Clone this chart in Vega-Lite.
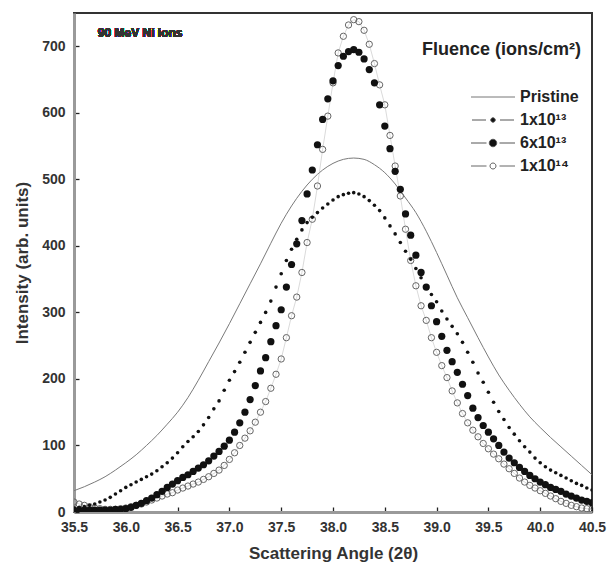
{
"$schema": "https://vega.github.io/schema/vega-lite/v6.json",
"width": 518, "height": 499,
"autosize": {"type": "none"},
"padding": {"left": 74, "top": 13, "right": 19, "bottom": 56},
"background": "white",
"config": {"font": "Liberation Sans", "view": {"stroke": "#333", "strokeWidth": 2}},
"datasets": {"d": [
{"s":"P","a":35.5,"v":32},{"s":"P","a":35.6,"v":38},{"s":"P","a":35.7,"v":45},{"s":"P","a":35.8,"v":53},{"s":"P","a":35.9,"v":63},{"s":"P","a":36.0,"v":74},{"s":"P","a":36.1,"v":86},{"s":"P","a":36.2,"v":100},{"s":"P","a":36.3,"v":115},{"s":"P","a":36.4,"v":132},{"s":"P","a":36.5,"v":150},{"s":"P","a":36.6,"v":172},{"s":"P","a":36.7,"v":198},{"s":"P","a":36.8,"v":226},{"s":"P","a":36.9,"v":254},{"s":"P","a":37.0,"v":283},{"s":"P","a":37.1,"v":313},{"s":"P","a":37.2,"v":343},{"s":"P","a":37.3,"v":373},{"s":"P","a":37.4,"v":404},{"s":"P","a":37.5,"v":434},{"s":"P","a":37.6,"v":460},{"s":"P","a":37.7,"v":482},{"s":"P","a":37.8,"v":500},{"s":"P","a":37.9,"v":514},{"s":"P","a":38.0,"v":524},{"s":"P","a":38.1,"v":530},{"s":"P","a":38.2,"v":532},{"s":"P","a":38.3,"v":530},{"s":"P","a":38.4,"v":522},{"s":"P","a":38.5,"v":510},{"s":"P","a":38.6,"v":493},{"s":"P","a":38.7,"v":472},{"s":"P","a":38.8,"v":450},{"s":"P","a":38.9,"v":422},{"s":"P","a":39.0,"v":390},{"s":"P","a":39.1,"v":356},{"s":"P","a":39.2,"v":322},{"s":"P","a":39.3,"v":292},{"s":"P","a":39.4,"v":262},{"s":"P","a":39.5,"v":233},{"s":"P","a":39.6,"v":206},{"s":"P","a":39.7,"v":183},{"s":"P","a":39.8,"v":162},{"s":"P","a":39.9,"v":143},{"s":"P","a":40.0,"v":127},{"s":"P","a":40.1,"v":112},{"s":"P","a":40.2,"v":98},{"s":"P","a":40.3,"v":84},{"s":"P","a":40.4,"v":70},{"s":"P","a":40.5,"v":56},
{"s":"L","a":35.5,"v":6},{"s":"L","a":35.55,"v":7},{"s":"L","a":35.6,"v":8},{"s":"L","a":35.65,"v":10},{"s":"L","a":35.7,"v":12},{"s":"L","a":35.75,"v":15},{"s":"L","a":35.8,"v":18},{"s":"L","a":35.85,"v":22},{"s":"L","a":35.9,"v":27},{"s":"L","a":35.95,"v":32},{"s":"L","a":36.0,"v":37},{"s":"L","a":36.05,"v":41},{"s":"L","a":36.1,"v":45},{"s":"L","a":36.15,"v":49},{"s":"L","a":36.2,"v":53},{"s":"L","a":36.25,"v":57},{"s":"L","a":36.3,"v":62},{"s":"L","a":36.35,"v":68},{"s":"L","a":36.4,"v":74},{"s":"L","a":36.45,"v":81},{"s":"L","a":36.5,"v":89},{"s":"L","a":36.55,"v":98},{"s":"L","a":36.6,"v":106},{"s":"L","a":36.65,"v":113},{"s":"L","a":36.7,"v":121},{"s":"L","a":36.75,"v":131},{"s":"L","a":36.8,"v":142},{"s":"L","a":36.85,"v":155},{"s":"L","a":36.9,"v":167},{"s":"L","a":36.95,"v":183},{"s":"L","a":37.0,"v":198},{"s":"L","a":37.05,"v":211},{"s":"L","a":37.1,"v":225},{"s":"L","a":37.15,"v":240},{"s":"L","a":37.2,"v":255},{"s":"L","a":37.25,"v":270},{"s":"L","a":37.3,"v":285},{"s":"L","a":37.35,"v":300},{"s":"L","a":37.4,"v":317},{"s":"L","a":37.45,"v":338},{"s":"L","a":37.5,"v":358},{"s":"L","a":37.55,"v":378},{"s":"L","a":37.6,"v":395},{"s":"L","a":37.65,"v":410},{"s":"L","a":37.7,"v":424},{"s":"L","a":37.75,"v":435},{"s":"L","a":37.8,"v":443},{"s":"L","a":37.85,"v":450},{"s":"L","a":37.9,"v":457},{"s":"L","a":37.95,"v":463},{"s":"L","a":38.0,"v":469},{"s":"L","a":38.05,"v":474},{"s":"L","a":38.1,"v":477},{"s":"L","a":38.15,"v":479},{"s":"L","a":38.2,"v":480},{"s":"L","a":38.25,"v":478},{"s":"L","a":38.3,"v":474},{"s":"L","a":38.35,"v":468},{"s":"L","a":38.4,"v":461},{"s":"L","a":38.45,"v":453},{"s":"L","a":38.5,"v":442},{"s":"L","a":38.55,"v":430},{"s":"L","a":38.6,"v":418},{"s":"L","a":38.65,"v":405},{"s":"L","a":38.7,"v":392},{"s":"L","a":38.75,"v":380},{"s":"L","a":38.8,"v":366},{"s":"L","a":38.85,"v":352},{"s":"L","a":38.9,"v":339},{"s":"L","a":38.95,"v":327},{"s":"L","a":39.0,"v":316},{"s":"L","a":39.05,"v":302},{"s":"L","a":39.1,"v":290},{"s":"L","a":39.15,"v":279},{"s":"L","a":39.2,"v":268},{"s":"L","a":39.25,"v":255},{"s":"L","a":39.3,"v":240},{"s":"L","a":39.35,"v":225},{"s":"L","a":39.4,"v":209},{"s":"L","a":39.45,"v":195},{"s":"L","a":39.5,"v":180},{"s":"L","a":39.55,"v":165},{"s":"L","a":39.6,"v":151},{"s":"L","a":39.65,"v":139},{"s":"L","a":39.7,"v":127},{"s":"L","a":39.75,"v":117},{"s":"L","a":39.8,"v":107},{"s":"L","a":39.85,"v":98},{"s":"L","a":39.9,"v":90},{"s":"L","a":39.95,"v":81},{"s":"L","a":40.0,"v":74},{"s":"L","a":40.05,"v":68},{"s":"L","a":40.1,"v":63},{"s":"L","a":40.15,"v":59},{"s":"L","a":40.2,"v":55},{"s":"L","a":40.25,"v":51},{"s":"L","a":40.3,"v":47},{"s":"L","a":40.35,"v":43},{"s":"L","a":40.4,"v":40},{"s":"L","a":40.45,"v":36},{"s":"L","a":40.5,"v":33},
{"s":"M","a":35.5,"v":3},{"s":"M","a":35.55,"v":3},{"s":"M","a":35.6,"v":3},{"s":"M","a":35.65,"v":3},{"s":"M","a":35.7,"v":3},{"s":"M","a":35.75,"v":3},{"s":"M","a":35.8,"v":3},{"s":"M","a":35.85,"v":3},{"s":"M","a":35.9,"v":4},{"s":"M","a":35.95,"v":4},{"s":"M","a":36.0,"v":5},{"s":"M","a":36.05,"v":7},{"s":"M","a":36.1,"v":10},{"s":"M","a":36.15,"v":13},{"s":"M","a":36.2,"v":17},{"s":"M","a":36.25,"v":21},{"s":"M","a":36.3,"v":26},{"s":"M","a":36.35,"v":31},{"s":"M","a":36.4,"v":37},{"s":"M","a":36.45,"v":42},{"s":"M","a":36.5,"v":47},{"s":"M","a":36.55,"v":52},{"s":"M","a":36.6,"v":56},{"s":"M","a":36.65,"v":61},{"s":"M","a":36.7,"v":66},{"s":"M","a":36.75,"v":71},{"s":"M","a":36.8,"v":77},{"s":"M","a":36.85,"v":84},{"s":"M","a":36.9,"v":91},{"s":"M","a":36.95,"v":99},{"s":"M","a":37.0,"v":108},{"s":"M","a":37.05,"v":120},{"s":"M","a":37.1,"v":134},{"s":"M","a":37.15,"v":150},{"s":"M","a":37.2,"v":169},{"s":"M","a":37.25,"v":190},{"s":"M","a":37.3,"v":212},{"s":"M","a":37.35,"v":232},{"s":"M","a":37.4,"v":256},{"s":"M","a":37.45,"v":280},{"s":"M","a":37.5,"v":304},{"s":"M","a":37.55,"v":338},{"s":"M","a":37.6,"v":372},{"s":"M","a":37.65,"v":403},{"s":"M","a":37.7,"v":438},{"s":"M","a":37.75,"v":478},{"s":"M","a":37.8,"v":514},{"s":"M","a":37.85,"v":552},{"s":"M","a":37.9,"v":590},{"s":"M","a":37.95,"v":621},{"s":"M","a":38.0,"v":648},{"s":"M","a":38.05,"v":671},{"s":"M","a":38.1,"v":685},{"s":"M","a":38.15,"v":692},{"s":"M","a":38.2,"v":695},{"s":"M","a":38.25,"v":691},{"s":"M","a":38.3,"v":681},{"s":"M","a":38.35,"v":665},{"s":"M","a":38.4,"v":645},{"s":"M","a":38.45,"v":612},{"s":"M","a":38.5,"v":580},{"s":"M","a":38.55,"v":546},{"s":"M","a":38.6,"v":512},{"s":"M","a":38.65,"v":485},{"s":"M","a":38.7,"v":448},{"s":"M","a":38.75,"v":416},{"s":"M","a":38.8,"v":386},{"s":"M","a":38.85,"v":360},{"s":"M","a":38.9,"v":338},{"s":"M","a":38.95,"v":310},{"s":"M","a":39.0,"v":286},{"s":"M","a":39.05,"v":264},{"s":"M","a":39.1,"v":243},{"s":"M","a":39.15,"v":226},{"s":"M","a":39.2,"v":210},{"s":"M","a":39.25,"v":192},{"s":"M","a":39.3,"v":175},{"s":"M","a":39.35,"v":156},{"s":"M","a":39.4,"v":142},{"s":"M","a":39.45,"v":130},{"s":"M","a":39.5,"v":120},{"s":"M","a":39.55,"v":110},{"s":"M","a":39.6,"v":100},{"s":"M","a":39.65,"v":90},{"s":"M","a":39.7,"v":81},{"s":"M","a":39.75,"v":74},{"s":"M","a":39.8,"v":67},{"s":"M","a":39.85,"v":61},{"s":"M","a":39.9,"v":55},{"s":"M","a":39.95,"v":50},{"s":"M","a":40.0,"v":45},{"s":"M","a":40.05,"v":41},{"s":"M","a":40.1,"v":37},{"s":"M","a":40.15,"v":34},{"s":"M","a":40.2,"v":31},{"s":"M","a":40.25,"v":27},{"s":"M","a":40.3,"v":24},{"s":"M","a":40.35,"v":21},{"s":"M","a":40.4,"v":18},{"s":"M","a":40.45,"v":16},{"s":"M","a":40.5,"v":14},
{"s":"H","a":35.5,"v":15},{"s":"H","a":35.55,"v":12},{"s":"H","a":35.6,"v":10},{"s":"H","a":35.65,"v":8},{"s":"H","a":35.7,"v":6},{"s":"H","a":35.75,"v":5},{"s":"H","a":35.8,"v":4},{"s":"H","a":35.85,"v":4},{"s":"H","a":35.9,"v":4},{"s":"H","a":35.95,"v":5},{"s":"H","a":36.0,"v":6},{"s":"H","a":36.05,"v":8},{"s":"H","a":36.1,"v":10},{"s":"H","a":36.15,"v":12},{"s":"H","a":36.2,"v":15},{"s":"H","a":36.25,"v":18},{"s":"H","a":36.3,"v":21},{"s":"H","a":36.35,"v":24},{"s":"H","a":36.4,"v":27},{"s":"H","a":36.45,"v":29},{"s":"H","a":36.5,"v":33},{"s":"H","a":36.55,"v":36},{"s":"H","a":36.6,"v":39},{"s":"H","a":36.65,"v":42},{"s":"H","a":36.7,"v":45},{"s":"H","a":36.75,"v":49},{"s":"H","a":36.8,"v":53},{"s":"H","a":36.85,"v":58},{"s":"H","a":36.9,"v":63},{"s":"H","a":36.95,"v":70},{"s":"H","a":37.0,"v":79},{"s":"H","a":37.05,"v":89},{"s":"H","a":37.1,"v":100},{"s":"H","a":37.15,"v":111},{"s":"H","a":37.2,"v":122},{"s":"H","a":37.25,"v":135},{"s":"H","a":37.3,"v":150},{"s":"H","a":37.35,"v":166},{"s":"H","a":37.4,"v":186},{"s":"H","a":37.45,"v":207},{"s":"H","a":37.5,"v":230},{"s":"H","a":37.55,"v":262},{"s":"H","a":37.6,"v":295},{"s":"H","a":37.65,"v":323},{"s":"H","a":37.7,"v":360},{"s":"H","a":37.75,"v":405},{"s":"H","a":37.8,"v":440},{"s":"H","a":37.85,"v":490},{"s":"H","a":37.9,"v":545},{"s":"H","a":37.95,"v":595},{"s":"H","a":38.0,"v":645},{"s":"H","a":38.05,"v":690},{"s":"H","a":38.1,"v":715},{"s":"H","a":38.15,"v":732},{"s":"H","a":38.2,"v":740},{"s":"H","a":38.25,"v":737},{"s":"H","a":38.3,"v":724},{"s":"H","a":38.35,"v":703},{"s":"H","a":38.4,"v":674},{"s":"H","a":38.45,"v":642},{"s":"H","a":38.5,"v":612},{"s":"H","a":38.55,"v":566},{"s":"H","a":38.6,"v":520},{"s":"H","a":38.65,"v":475},{"s":"H","a":38.7,"v":425},{"s":"H","a":38.75,"v":378},{"s":"H","a":38.8,"v":340},{"s":"H","a":38.85,"v":310},{"s":"H","a":38.9,"v":288},{"s":"H","a":38.95,"v":262},{"s":"H","a":39.0,"v":240},{"s":"H","a":39.05,"v":220},{"s":"H","a":39.1,"v":202},{"s":"H","a":39.15,"v":182},{"s":"H","a":39.2,"v":164},{"s":"H","a":39.25,"v":148},{"s":"H","a":39.3,"v":134},{"s":"H","a":39.35,"v":123},{"s":"H","a":39.4,"v":113},{"s":"H","a":39.45,"v":103},{"s":"H","a":39.5,"v":95},{"s":"H","a":39.55,"v":87},{"s":"H","a":39.6,"v":80},{"s":"H","a":39.65,"v":72},{"s":"H","a":39.7,"v":65},{"s":"H","a":39.75,"v":58},{"s":"H","a":39.8,"v":51},{"s":"H","a":39.85,"v":45},{"s":"H","a":39.9,"v":40},{"s":"H","a":39.95,"v":36},{"s":"H","a":40.0,"v":32},{"s":"H","a":40.05,"v":28},{"s":"H","a":40.1,"v":24},{"s":"H","a":40.15,"v":20},{"s":"H","a":40.2,"v":16},{"s":"H","a":40.25,"v":13},{"s":"H","a":40.3,"v":10},{"s":"H","a":40.35,"v":8},{"s":"H","a":40.4,"v":6},{"s":"H","a":40.45,"v":5},{"s":"H","a":40.5,"v":4}
]},
"data": {"name": "d"},
"layer": [
{"transform": [{"filter": "datum.s === 'P'"}],
 "mark": {"type": "line", "color": "#7a7a7a", "strokeWidth": 1, "interpolate": "monotone", "clip": true},
 "encoding": {
  "x": {"field": "a", "type": "quantitative", "scale": {"domain": [35.5, 40.5], "nice": false, "zero": false},
   "axis": {"values": [35.5,35.75,36,36.25,36.5,36.75,37,37.25,37.5,37.75,38,38.25,38.5,38.75,39,39.25,39.5,39.75,40,40.25,40.5],
    "labelExpr": "datum.value % 0.5 === 0 ? format(datum.value, '.1f') : ''",
    "title": "Scattering Angle (2θ)", "grid": false, "tickSize": -5, "tickColor": "#222", "tickWidth": 1.3,
    "labelPadding": 13, "domainColor": "#9a9a9a", "domainWidth": 3, "labelFontSize": 14, "labelFontWeight": "bold", "labelColor": "#333",
    "labelFlush": false, "labelOverlap": false, "titleFontSize": 17, "titleFontWeight": "bold", "titleColor": "#333", "titlePadding": 11,
    "encode": {"ticks": {"update": {"y2": {"signal": "datum.value % 0.5 === 0 ? -5 : -3"}}}}}},
  "y": {"field": "v", "type": "quantitative", "scale": {"domain": [0, 750], "nice": false},
   "axis": {"values": [0,50,100,150,200,250,300,350,400,450,500,550,600,650,700],
    "labelExpr": "datum.value % 100 === 0 ? datum.label : ''",
    "title": "Intensity (arb. units)", "grid": false, "tickSize": -5, "tickColor": "#222", "tickWidth": 1.3,
    "labelPadding": 14, "domainColor": "#9a9a9a", "domainWidth": 3, "labelFontSize": 14, "labelFontWeight": "bold", "labelColor": "#333",
    "labelFlush": false, "labelOverlap": false, "titleFontSize": 17, "titleFontWeight": "bold", "titleColor": "#333", "titlePadding": 10,
    "encode": {"ticks": {"update": {"x2": {"signal": "datum.value % 100 === 0 ? 5 : 3"}}},
               "labels": {"update": {"dy": {"signal": "datum.value === 0 ? -3 : 0"}}}}}}
 }},
{"transform": [{"filter": "datum.s === 'H'"}],
 "mark": {"type": "line", "color": "#b5b5b5", "strokeWidth": 0.5, "clip": true},
 "encoding": {"x": {"field": "a", "type": "quantitative", "scale": {"domain": [35.5, 40.5], "nice": false, "zero": false}},
  "y": {"field": "v", "type": "quantitative", "scale": {"domain": [0, 750], "nice": false}}}},
{"transform": [{"filter": "datum.s === 'H'"}],
 "mark": {"type": "point", "filled": false, "size": 40, "stroke": "#666", "strokeWidth": 1, "opacity": 1, "clip": true},
 "encoding": {"x": {"field": "a", "type": "quantitative", "scale": {"domain": [35.5, 40.5], "nice": false, "zero": false}},
  "y": {"field": "v", "type": "quantitative", "scale": {"domain": [0, 750], "nice": false}}}},
{"transform": [{"filter": "datum.s === 'M'"}],
 "mark": {"type": "point", "filled": true, "size": 52, "color": "#111", "opacity": 1, "clip": true},
 "encoding": {"x": {"field": "a", "type": "quantitative", "scale": {"domain": [35.5, 40.5], "nice": false, "zero": false}},
  "y": {"field": "v", "type": "quantitative", "scale": {"domain": [0, 750], "nice": false}}}},
{"transform": [{"filter": "datum.s === 'L'"}],
 "mark": {"type": "point", "filled": true, "size": 13, "color": "#111", "opacity": 1, "clip": true},
 "encoding": {"x": {"field": "a", "type": "quantitative", "scale": {"domain": [35.5, 40.5], "nice": false, "zero": false}},
  "y": {"field": "v", "type": "quantitative", "scale": {"domain": [0, 750], "nice": false}}}},
{"mark": {"type": "text", "text": "90 MeV Ni ions", "align": "left", "baseline": "middle", "fontSize": 12, "fontWeight": "bold", "color": "#333"},
 "encoding": {"x": {"datum": 35.73, "type": "quantitative"}, "y": {"datum": 720, "type": "quantitative"}}},
{"mark": {"type": "point", "opacity": 0, "size": 100, "filled": true},
 "encoding": {"x": {"field": "a", "type": "quantitative", "scale": {"domain": [35.5, 40.5], "nice": false, "zero": false}},
  "y": {"field": "v", "type": "quantitative", "scale": {"domain": [0, 750], "nice": false}},
  "fill": {"field": "s", "type": "nominal", "scale": {"domain": ["P","L","M","H"], "range": ["transparent", "#111", "#111", "white"]}},
  "stroke": {"field": "s", "type": "nominal", "scale": {"domain": ["P","L","M","H"], "range": ["#777", "#555", "#555", "#666"]}},
  "shape": {"field": "s", "type": "nominal",
   "scale": {"domain": ["P","L","M","H"], "range": [
     "M-4.4,0H4.4",
     "M-4.2,0H-1.4M1.4,0H4.2M-0.45,0A0.45,0.45 0 1,0 0.45,0A0.45,0.45 0 1,0 -0.45,0Z",
     "M-4.4,0H-1.3M1.3,0H4.4M-0.75,0A0.75,0.75 0 1,0 0.75,0A0.75,0.75 0 1,0 -0.75,0Z",
     "M-4.4,0H-1.3M1.3,0H4.4M-0.6,0A0.6,0.6 0 1,0 0.6,0A0.6,0.6 0 1,0 -0.6,0Z"]},
   "legend": {"title": "Fluence (ions/cm²)", "orient": "none", "legendX": 348, "legendY": 28,
    "titleFontSize": 18, "titleFontWeight": "bold", "titleColor": "#222", "titlePadding": 30,
    "labelFontSize": 16, "labelFontWeight": "bold", "labelColor": "#222",
    "symbolSize": 100, "symbolOffset": 63, "labelOffset": 19, "rowPadding": 7, "symbolOpacity": 1, "symbolStrokeWidth": 1,
    "labelExpr": "datum.value === 'P' ? 'Pristine' : datum.value === 'L' ? '1x10¹³' : datum.value === 'M' ? '6x10¹³' : '1x10¹⁴'"}}
 }}
]
}
